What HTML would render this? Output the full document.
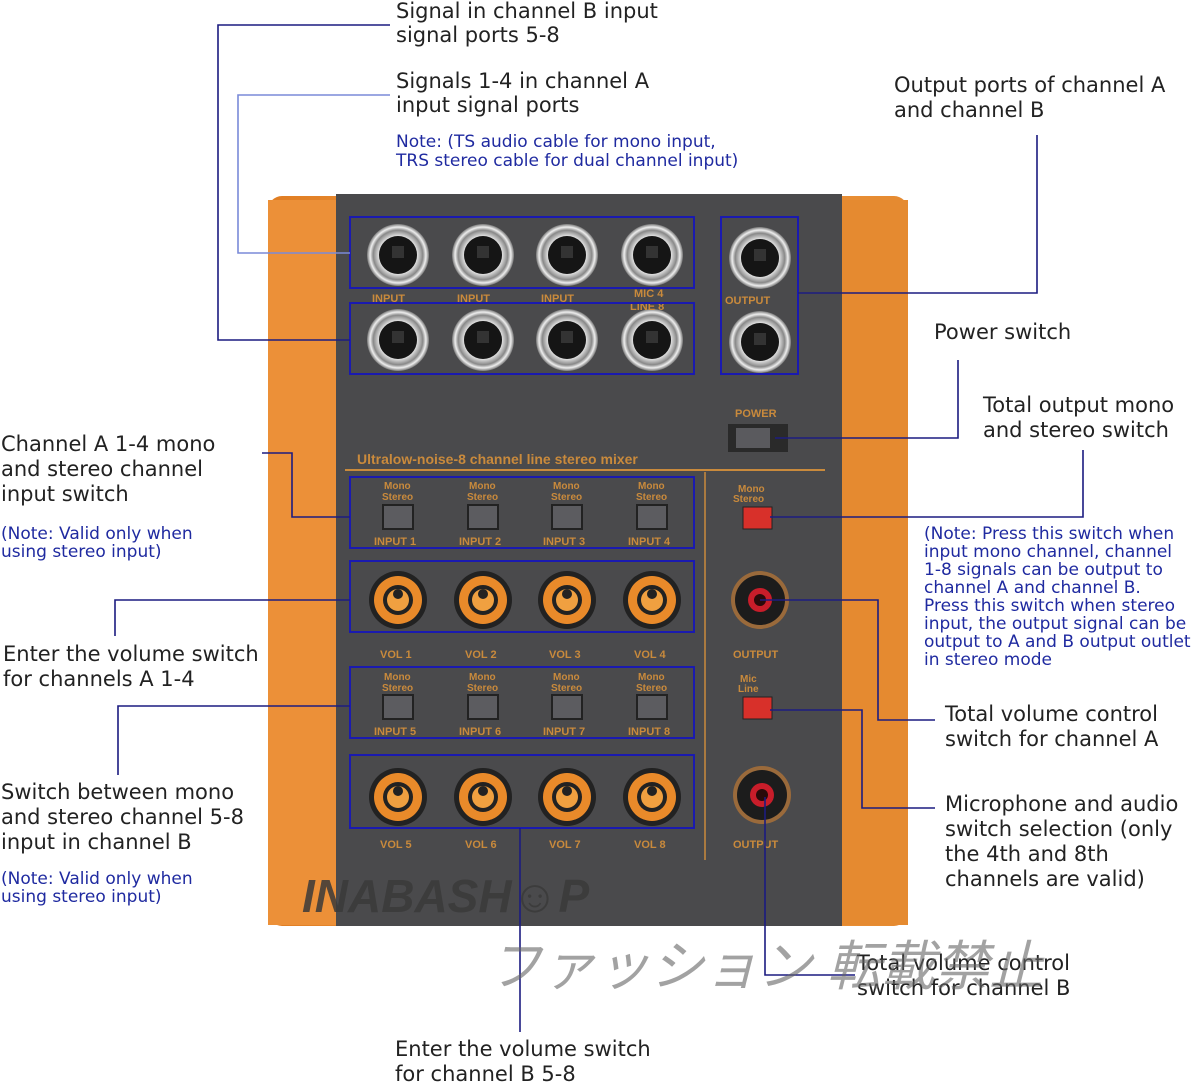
<!DOCTYPE html><html><head><meta charset="utf-8"><style>
body{margin:0;background:#fff}
svg{display:block}
.t{font-family:"DejaVu Sans","Liberation Sans",sans-serif;font-size:21px;fill:#222}
.n{font-family:"DejaVu Sans","Liberation Sans",sans-serif;font-size:17px;fill:#1f2aa0}
.g{font-family:"Liberation Sans",sans-serif;font-weight:bold;fill:#c98a3c}
</style></head><body>
<svg width="1200" height="1085" viewBox="0 0 1200 1085" xmlns="http://www.w3.org/2000/svg">
<defs>
<linearGradient id="or" x1="0" x2="1"><stop offset="0" stop-color="#e07d22"/><stop offset=".5" stop-color="#f4a04a"/><stop offset="1" stop-color="#e58a30"/></linearGradient>
<radialGradient id="jk"><stop offset=".55" stop-color="#1a1a1a"/><stop offset=".62" stop-color="#ddd"/><stop offset=".8" stop-color="#888"/><stop offset=".9" stop-color="#eee"/><stop offset="1" stop-color="#777"/></radialGradient>
<g id="jack"><circle r="31" fill="url(#jk)"/><circle r="19" fill="#151515"/><rect x="-6" y="-9" width="12" height="12" fill="#333"/></g>
<g id="knob"><circle r="29" fill="#222"/><circle r="24" fill="#e98a2a"/><circle r="15" fill="#222"/><circle r="11" fill="#f0a040"/><circle r="5" cy="-6" fill="#222"/></g>
<g id="oknob"><circle r="29" fill="#e98a2a" opacity=".5"/><circle r="25" fill="#1c1c1c"/><circle r="12" fill="#c81d2a"/><circle r="6" fill="#2a0a0a"/></g>
<g id="sw"><rect x="-15" y="-12" width="30" height="24" fill="#5c5c60" stroke="#222" stroke-width="2"/></g>
</defs>
<rect x="268" y="196" width="640" height="730" rx="14" fill="url(#or)"/>
<rect x="336" y="194" width="506" height="732" fill="#4a4a4c"/>
<rect x="842" y="200" width="66" height="725" fill="#e58a30"/>
<rect x="268" y="200" width="68" height="725" fill="#ec9038"/>
<use href="#jack" x="398" y="255"/><use href="#jack" x="483" y="255"/><use href="#jack" x="567" y="255"/><use href="#jack" x="652" y="255"/>
<use href="#jack" x="398" y="340"/><use href="#jack" x="483" y="340"/><use href="#jack" x="567" y="340"/><use href="#jack" x="652" y="340"/>
<use href="#jack" x="760" y="258"/><use href="#jack" x="760" y="342"/>
<g class="g" font-size="11"><text x="372" y="302">INPUT</text><text x="457" y="302">INPUT</text><text x="541" y="302">INPUT</text><text x="634" y="297">MIC 4</text><text x="630" y="310">LINE 8</text><text x="725" y="304">OUTPUT</text>
<text x="735" y="417" font-size="11">POWER</text>
<text x="357" y="464" font-size="14">Ultralow-noise-8 channel line stereo mixer</text></g>
<line x1="345" y1="470" x2="825" y2="470" stroke="#c98a3c" stroke-width="2"/>
<line x1="705" y1="472" x2="705" y2="860" stroke="#c98a3c" stroke-width="1.5"/>
<rect x="728" y="424" width="60" height="28" fill="#2a2a2a"/><rect x="736" y="428" width="34" height="20" fill="#5a5a5e"/>
<g class="g" font-size="10">
<text x="384" y="489">Mono</text><text x="382" y="500">Stereo</text><text x="469" y="489">Mono</text><text x="467" y="500">Stereo</text><text x="553" y="489">Mono</text><text x="551" y="500">Stereo</text><text x="638" y="489">Mono</text><text x="636" y="500">Stereo</text>
<text x="374" y="545" font-size="11">INPUT 1</text><text x="459" y="545" font-size="11">INPUT 2</text><text x="543" y="545" font-size="11">INPUT 3</text><text x="628" y="545" font-size="11">INPUT 4</text>
<text x="384" y="680">Mono</text><text x="382" y="691">Stereo</text><text x="469" y="680">Mono</text><text x="467" y="691">Stereo</text><text x="553" y="680">Mono</text><text x="551" y="691">Stereo</text><text x="638" y="680">Mono</text><text x="636" y="691">Stereo</text>
<text x="374" y="735" font-size="11">INPUT 5</text><text x="459" y="735" font-size="11">INPUT 6</text><text x="543" y="735" font-size="11">INPUT 7</text><text x="628" y="735" font-size="11">INPUT 8</text>
<text x="380" y="658" font-size="11">VOL 1</text><text x="465" y="658" font-size="11">VOL 2</text><text x="549" y="658" font-size="11">VOL 3</text><text x="634" y="658" font-size="11">VOL 4</text>
<text x="380" y="848" font-size="11">VOL 5</text><text x="465" y="848" font-size="11">VOL 6</text><text x="549" y="848" font-size="11">VOL 7</text><text x="634" y="848" font-size="11">VOL 8</text>
<text x="733" y="658" font-size="11">OUTPUT</text><text x="733" y="848" font-size="11">OUTPUT</text>
<text x="738" y="492">Mono</text><text x="733" y="502">Stereo</text><text x="740" y="682">Mic</text><text x="738" y="692">Line</text>
</g>
<use href="#sw" x="398" y="517"/><use href="#sw" x="483" y="517"/><use href="#sw" x="567" y="517"/><use href="#sw" x="652" y="517"/>
<use href="#sw" x="398" y="707"/><use href="#sw" x="483" y="707"/><use href="#sw" x="567" y="707"/><use href="#sw" x="652" y="707"/>
<rect x="743" y="507" width="29" height="22" fill="#d8302a" stroke="#222"/><rect x="743" y="697" width="29" height="22" fill="#d8302a" stroke="#222"/>
<use href="#knob" x="398" y="600"/><use href="#knob" x="483" y="600"/><use href="#knob" x="567" y="600"/><use href="#knob" x="652" y="600"/>
<use href="#knob" x="398" y="797"/><use href="#knob" x="483" y="797"/><use href="#knob" x="567" y="797"/><use href="#knob" x="652" y="797"/>
<use href="#oknob" x="760" y="600"/><use href="#oknob" x="762" y="795"/>
<g fill="none" stroke="#1a1ab0" stroke-width="2">
<rect x="350" y="217" width="344" height="71"/><rect x="350" y="303" width="344" height="71"/><rect x="721" y="217" width="77" height="157"/>
<rect x="350" y="477" width="344" height="71"/><rect x="350" y="561" width="344" height="71"/><rect x="350" y="667" width="344" height="71"/><rect x="350" y="755" width="344" height="73"/>
</g>
<g fill="none" stroke="#1c1c80" stroke-width="1.6">
<polyline points="390,25 218,25 218,340 350,340"/>
<polyline points="390,95 238,95 238,253 350,253" stroke="#7a8ad8"/>
<polyline points="1037,135 1037,293 798,293"/>
<polyline points="958,360 958,438 775,438"/>
<polyline points="1083,450 1083,517 770,517"/>
<polyline points="262,453 292,453 292,517 350,517"/>
<polyline points="115,636 115,600 350,600"/>
<polyline points="118,775 118,706 350,706"/>
<polyline points="760,600 878,600 878,720 935,720"/>
<polyline points="770,710 862,710 862,808 935,808"/>
<polyline points="765,797 765,975 855,975"/>
<polyline points="520,828 520,1032"/>
</g>
<g class="t">
<text x="396" y="18">Signal in channel B input</text><text x="396" y="42">signal ports 5-8</text>
<text x="396" y="88">Signals 1-4 in channel A</text><text x="396" y="112">input signal ports</text>
<text x="894" y="92">Output ports of channel A</text><text x="894" y="117">and channel B</text>
<text x="934" y="339">Power switch</text>
<text x="983" y="412">Total output mono</text><text x="983" y="437">and stereo switch</text>
<text x="1" y="451">Channel A 1-4 mono</text><text x="1" y="476">and stereo channel</text><text x="1" y="501">input switch</text>
<text x="3" y="661">Enter the volume switch</text><text x="3" y="686">for channels A 1-4</text>
<text x="1" y="799">Switch between mono</text><text x="1" y="824">and stereo channel 5-8</text><text x="1" y="849">input in channel B</text>
<text x="945" y="721">Total volume control</text><text x="945" y="746">switch for channel A</text>
<text x="945" y="811">Microphone and audio</text><text x="945" y="836">switch selection (only</text><text x="945" y="861">the 4th and 8th</text><text x="945" y="886">channels are valid)</text>
<text x="857" y="970">Total volume control</text><text x="857" y="995">switch for channel B</text>
<text x="395" y="1056">Enter the volume switch</text><text x="395" y="1081">for channel B 5-8</text>
</g>
<g class="n">
<text x="396" y="147">Note: (TS audio cable for mono input,</text><text x="396" y="166">TRS stereo cable for dual channel input)</text>
<text x="1" y="539">(Note: Valid only when</text><text x="1" y="557">using stereo input)</text>
<text x="1" y="884">(Note: Valid only when</text><text x="1" y="902">using stereo input)</text>
<text x="924" y="539">(Note: Press this switch when</text><text x="924" y="557">input mono channel, channel</text><text x="924" y="575">1-8 signals can be output to</text><text x="924" y="593">channel A and channel B.</text><text x="924" y="611">Press this switch when stereo</text><text x="924" y="629">input, the output signal can be</text><text x="924" y="647">output to A and B output outlet</text><text x="924" y="665">in stereo mode</text>
</g>
<text x="302" y="912" font-family="Liberation Sans,sans-serif" font-weight="bold" font-style="italic" font-size="46" fill="#3a3a3a" opacity=".85">INABASH☺P</text>
<text x="488" y="985" font-family="Liberation Sans,'Noto Sans CJK JP',sans-serif" font-style="italic" font-size="54" fill="#666" opacity=".6">ファッション 転載禁止</text>
</svg>
</body></html>
